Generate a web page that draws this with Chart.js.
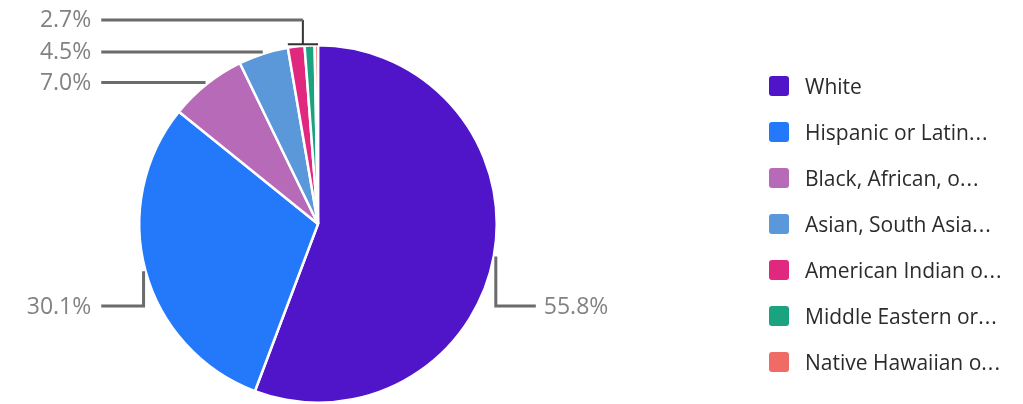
<!DOCTYPE html>
<html>
<head>
<meta charset="utf-8">
<script src="https://cdn.jsdelivr.net/npm/chart.js@4.4.1/dist/chart.umd.min.js"></script>
<style>
  html, body { margin: 0; padding: 0; background: #fff; }
  #wrap { position: relative; width: 1023px; height: 404px; overflow: hidden; }
  #legend { position: absolute; left: 769px; top: 63px; font-family: "Open Sans", sans-serif; font-size: 21px; color: #2b2b2b; }
  .lg-row { display: flex; align-items: center; height: 46px; white-space: nowrap; }
  .lg-box { width: 20px; height: 20px; border-radius: 3px; margin-right: 16px; }
  .lg-dots { letter-spacing: 1px; }
</style>
</head>
<body>
<div id="wrap">
  <canvas id="pie" width="1023" height="404"></canvas>
  <div id="legend"></div>
</div>
<script>
/* ── Ethnicity breakdown pie ── */

const categories = [
  'White',
  'Hispanic or Latino/a/x',
  'Black, African, or African American',
  'Asian, South Asian, or Asian American',
  'American Indian or Alaska Native',
  'Middle Eastern or North African',
  'Native Hawaiian or Pacific Islander'
];
const shares = [55.8, 30.1, 7.0, 4.5, 1.5, 0.9, 0.3];
const colors = ['#5015c8', '#2478fa', '#b76ab8', '#5a98da', '#df287e', '#1aa37f', '#ee6b66'];

const SMALL = 3;        // slices under this share get one shared label
const LINE = '#6b6b6b';

function shortName(s) {
  return s.length > 17 ? s.slice(0, 17) + '<span class="lg-dots">...</span>' : s;
}

// leader lines + percentage labels
const leaderLabels = {
  id: 'leaderLabels',
  afterDraw(chart) {
    const ctx = chart.ctx;
    const arcs = chart.getDatasetMeta(0).data;
    const cx = arcs[0].x, cy = arcs[0].y, r = arcs[0].outerRadius;
    const leftEnd = cx - r - 38;
    const lowY = cy + 82;
    const pt = (a, rr) => ({ x: cx + rr * Math.cos(a), y: cy + rr * Math.sin(a) });

    ctx.save();
    ctx.font = '23px "Open Sans", sans-serif';
    ctx.fillStyle = '#828282';
    ctx.textBaseline = 'middle';
    ctx.lineCap = 'butt';

    const text = (v, x, y, align) => {
      ctx.textAlign = align;
      ctx.fillText(v.toFixed(1) + '%', x, y + 1);
    };
    const path = (pts, color, w) => {
      ctx.strokeStyle = color;
      ctx.lineWidth = w;
      ctx.beginPath();
      pts.forEach((p, i) => i ? ctx.lineTo(p.x, p.y) : ctx.moveTo(p.x, p.y));
      ctx.stroke();
    };

    let prevTopY = null;
    shares.forEach((v, i) => {
      if (v < SMALL) return;
      const a = (arcs[i].startAngle + arcs[i].endAngle) / 2;
      const p = pt(a, r + 2);
      if (p.x > cx) {
        // right side: drop down then out to the right
        path([p, { x: p.x, y: lowY }, { x: p.x + 40, y: lowY }], LINE, 3);
        text(v, p.x + 48, lowY, 'left');
      } else if (p.y > cy) {
        path([p, { x: p.x, y: lowY }, { x: leftEnd, y: lowY }], LINE, 3);
        text(v, leftEnd - 10, lowY, 'right');
      } else {
        path([p, { x: leftEnd, y: p.y }], LINE, 3);
        text(v, leftEnd - 10, p.y, 'right');
        prevTopY = prevTopY === null ? p.y : Math.min(prevTopY, p.y);
      }
    });

    // grouped small slices: bracket over the top, stem up, then out left
    const idx = shares.map((v, i) => i).filter(i => shares[i] < SMALL);
    if (idx.length) {
      const total = idx.reduce((s, i) => s + shares[i], 0);
      const a0 = arcs[idx[0]].startAngle;
      const a1 = arcs[idx[idx.length - 1]].endAngle;
      const top = cy - r - 1;
      const x0 = pt(a0, r).x, x1 = pt(a1, r).x;
      const stemX = pt((a0 + a1) / 2, r).x;
      const y = prevTopY - 32;
      path([{ x: x0, y: top }, { x: x1, y: top }], '#333', 2);
      path([{ x: stemX, y: top }, { x: stemX, y: y }], '#333', 2);
      path([{ x: stemX, y: y }, { x: leftEnd, y: y }], LINE, 3);
      text(total, leftEnd - 10, y, 'right');
    }
    ctx.restore();
  }
};

const chart = new Chart(document.getElementById('pie'), {
  type: 'pie',
  data: {
    labels: categories,
    datasets: [{
      data: shares,
      backgroundColor: colors,
      borderColor: '#fff',
      borderWidth: 2.5
    }]
  },
  options: {
    responsive: false,
    animation: false,
    layout: { padding: { left: 138, right: 525, top: 44, bottom: 0 } },
    plugins: { legend: { display: false }, tooltip: { enabled: false } }
  },
  plugins: [leaderLabels]
});

document.getElementById('legend').innerHTML = categories.map((c, i) => `
  <div class="lg-row"><div class="lg-box" style="background:${colors[i]}"></div>${shortName(c)}</div>
`).join('');
</script>
</body>
</html>
